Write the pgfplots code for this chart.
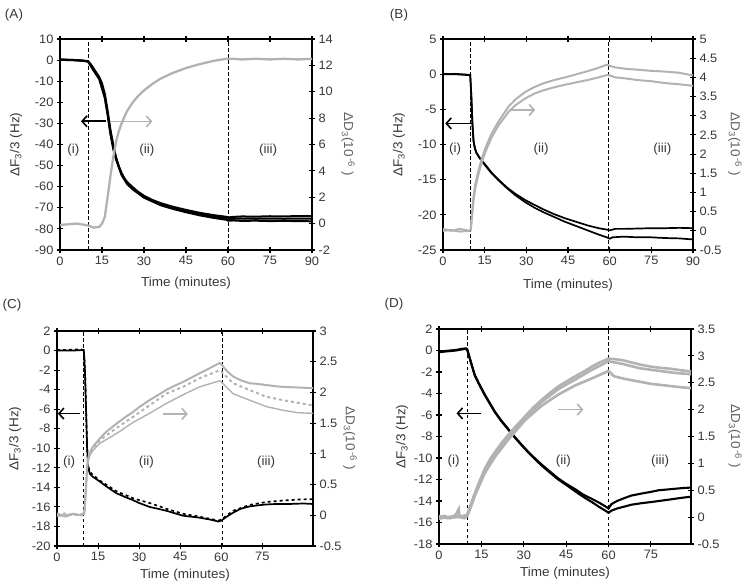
\documentclass[border=0pt]{standalone}
\usepackage{fontspec}
\setmainfont{Liberation Sans}[FakeStretch=1.04]
\newfontfamily\tickfamily{Liberation Sans}[FakeStretch=1.05]
\usepackage{pgfplots}
\pgfplotsset{compat=1.18}
\usetikzlibrary{arrows.meta}
\definecolor{gry}{RGB}{178,178,178}
\definecolor{txt}{RGB}{55,55,55}
\newcommand{\tf}{\fontsize{13}{15}\selectfont}
\newcommand{\tkf}{\tickfamily\fontsize{12.2}{14}\selectfont}
\pgfplotsset{
  qcm/.style={scale only axis, axis line style={line width=1.5pt}, every tick/.style={black, line width=1.1pt},
    tick align=center, major tick length=6pt, ticklabel style={font=\tkf, text=txt},
    /pgf/number format/assume math mode=true, clip=true, label style={font=\tf}},
  leftax/.style={qcm, ytick pos=left, xtick pos=both, xlabel={Time (minutes)}, ylabel={ΔF\textsubscript{3}/3 (Hz)},
    every axis y label/.style={at={(axis description cs:#1,0.5)}, anchor=center, rotate=90, text=txt, font=\tf},
    every axis x label/.style={at={(axis description cs:0.5,0)}, anchor=center, text=txt, font=\tf}},
  rightax/.style={qcm, axis y line*=right, axis x line=none, ylabel={ΔD\textsubscript{3}(10\textsuperscript{\,-6}\,\,)},
    every axis y label/.style={at={(axis description cs:#1,0.5)}, anchor=center, rotate=-90, text=black!62, font=\tf}},
}
\tikzset{
  blk/.style={black, line width=1.7pt},
  gl/.style={gry, line width=2pt},
  vd/.style={black, line width=0.8pt, dash pattern=on 3.5pt off 2.5pt},
  barw/.style={line width=1.6pt, -{Straight Barb[length=5pt,width=11pt]}},
  rn/.style={font=\tf, text=txt}
}
\begin{document}
\begin{tikzpicture}
\useasboundingbox (0,0) rectangle (750pt,587pt);
\node[font=\tf, text=txt] at (14pt,572pt) {(A)};
\node[font=\tf, text=txt] at (399pt,572pt) {(B)};
\node[font=\tf, text=txt] at (12pt,282pt) {(C)};
\node[font=\tf, text=txt] at (394pt,283pt) {(D)};
% ---------------- Panel A ----------------
\begin{axis}[leftax=-0.175, at={(60pt,337pt)}, anchor=south west, width=252pt, height=211pt,
  xmin=0, xmax=90, ymin=-90, ymax=10, xtick={0,15,...,90}, ytick={-90,-80,...,10},
  xlabel style={yshift=-33pt}]
\addplot[vd] coordinates {(10,-90) (10,10)};
\addplot[vd] coordinates {(60,-90) (60,10)};
\addplot[blk, line width=2pt] coordinates {(0,0.3) (2,0.2) (4,0.1) (6,0) (8,-0.2) (10,-0.5) (11,-2) (12,-4) (13,-6) (14,-8) (15,-11) (16,-16) (17,-24) (18,-33) (19,-40) (20,-46) (21,-50.5) (22,-53.5) (23,-56) (24,-57.8) (26,-60.3) (28,-62.5) (30,-64.3) (33,-66.3) (36,-67.8) (40,-69.4) (45,-71) (50,-72.4) (55,-73.5) (59.5,-74.3) (60,-74.6) (62,-74.3) (65,-74.1) (70,-74.2) (75,-74) (80,-74.1) (85,-73.9) (90,-74)};
\addplot[blk, line width=2pt] coordinates {(0,0.2) (4,0.1) (8,-0.3) (10,-0.6) (12,-4.5) (14,-8.5) (16,-17) (17,-25) (18,-34) (19,-41) (20,-46.5) (22,-54) (24,-58.3) (26,-60.8) (30,-64.8) (36,-68.3) (40,-69.9) (45,-71.6) (50,-73) (55,-74.2) (59.5,-75) (60,-75.4) (62,-75.2) (65,-75.1) (70,-75.2) (75,-75.1) (80,-75.2) (85,-75.1) (90,-75.2)};
\addplot[blk, line width=2pt] coordinates {(0,0.1) (4,0) (8,-0.3) (10,-0.7) (12,-5) (14,-9) (16,-18) (17,-26) (18,-35) (19,-42) (20,-47) (22,-54.5) (24,-58.8) (26,-61.3) (30,-65.2) (36,-68.8) (40,-70.4) (45,-72.1) (50,-73.6) (55,-74.8) (59.5,-75.7) (60,-76.1) (62,-76) (65,-76.2) (70,-76.1) (75,-76.3) (80,-76.2) (85,-76.3) (90,-76.4)};
\draw[barw, black] (axis cs:16.6,-29) -- (axis cs:7.5,-29);
\node[rn] at (axis cs:4.8,-42.5) {(i)};
\node[rn] at (axis cs:31,-42.5) {(ii)};
\node[rn] at (axis cs:74.3,-42.5) {(iii)};
\end{axis}
\begin{axis}[rightax=1.143, at={(60pt,337pt)}, anchor=south west, width=252pt, height=211pt,
  xmin=0, xmax=90, ymin=-2, ymax=14, ytick={-2,0,...,14}]
\addplot[gl, line width=2.3pt] coordinates {(0,-0.1) (3,-0.05) (6,0) (9,-0.1) (10,-0.15) (12,-0.3) (14,-0.25) (15,0) (16,0.5) (17,2.0) (18,3.6) (19,5.0) (20,6.2) (21,7.0) (22,7.6) (23,8.1) (24,8.55) (26,9.2) (28,9.7) (30,10.1) (33,10.6) (36,11.0) (40,11.4) (45,11.8) (50,12.1) (55,12.35) (59.5,12.5) (62,12.5) (65,12.45) (70,12.5) (75,12.45) (80,12.5) (85,12.45) (90,12.5)};
\draw[barw, gry] (axis cs:17.8,7.75) -- (axis cs:33,7.75);
\end{axis}
% ---------------- Panel B ----------------
\begin{axis}[leftax=-0.176, at={(443pt,337pt)}, anchor=south west, width=250pt, height=211pt,
  xmin=0, xmax=90, ymin=-25, ymax=5, xtick={0,15,...,90}, ytick={-25,-20,...,5},
  xlabel style={yshift=-35pt}]
\addplot[vd] coordinates {(10,-25) (10,5)};
\addplot[vd] coordinates {(59.5,-25) (59.5,5)};
\addplot[blk] coordinates {(0,0.05) (2,0) (4,0.05) (6,0) (8,-0.05) (9.8,-0.1) (10.2,-3) (10.6,-7) (11,-9.5) (11.5,-10.5) (12,-11.1) (13,-11.8) (14,-12.3) (15.5,-13) (17.5,-14) (20,-15) (23,-16.1) (26,-17) (29.6,-17.9) (33,-18.6) (36,-19.2) (40,-19.9) (44,-20.5) (48,-21.0) (52,-21.5) (56,-21.9) (59,-22.1) (60,-22.2) (62,-22.0) (65,-22.0) (70,-21.95) (75,-21.9) (80,-21.9) (85,-21.85) (90,-21.9)};
\addplot[blk] coordinates {(0,0) (4,0) (8,-0.1) (9.8,-0.15) (10.2,-3.2) (10.6,-7.2) (11,-9.6) (11.5,-10.6) (12,-11.2) (14,-12.4) (17.5,-14.1) (20,-15.1) (23,-16.2) (26,-17.2) (29.6,-18.2) (33,-19.0) (36,-19.6) (40,-20.3) (44,-21.0) (48,-21.6) (52,-22.2) (56,-22.8) (59,-23.2) (60,-23.4) (61,-23.2) (65,-23.1) (70,-23.2) (75,-23.2) (80,-23.3) (85,-23.35) (90,-23.5)};
\draw[barw, black] (axis cs:10.4,-7) -- (axis cs:0.8,-7);
\node[rn] at (axis cs:4.4,-10.7) {(i)};
\node[rn] at (axis cs:35.3,-10.7) {(ii)};
\node[rn] at (axis cs:79,-10.7) {(iii)};
\end{axis}
\begin{axis}[rightax=1.168, at={(443pt,337pt)}, anchor=south west, width=250pt, height=211pt,
  xmin=0, xmax=90, ymin=-0.5, ymax=5, ytick={-0.5,0,...,5}]
\addplot[gl] coordinates {(0,0.05) (3,0.0) (6,0.05) (9.5,0.0) (10,0.05) (10.5,0.5) (11,0.9) (11.6,1.2) (12.5,1.5) (14,1.9) (15.5,2.2) (17.6,2.55) (20,2.85) (23.6,3.24) (26,3.42) (29.6,3.62) (33,3.75) (36,3.84) (40,3.93) (44,4.0) (48,4.08) (52,4.16) (56,4.25) (59,4.33) (60,4.3) (62,4.26) (66,4.22) (70,4.2) (75,4.17) (80,4.15) (85,4.12) (90,4.05)};
\addplot[gl] coordinates {(0,0.0) (3,0.02) (6,-0.02) (9.5,0.0) (10,0.02) (10.5,0.4) (11,0.8) (11.6,1.1) (12.5,1.4) (14,1.8) (15.5,2.1) (17.6,2.45) (20,2.75) (23.6,3.1) (26,3.27) (29.6,3.45) (33,3.58) (36,3.66) (40,3.74) (44,3.81) (48,3.87) (52,3.93) (56,4.0) (59,4.06) (60,4.05) (62,4.0) (66,3.97) (70,3.93) (75,3.9) (80,3.85) (85,3.82) (90,3.78)};
\draw[barw, gry] (axis cs:23.6,3.15) -- (axis cs:33.2,3.15);
\end{axis}
% ---------------- Panel C ----------------
\begin{axis}[leftax=-0.164, at={(57pt,41pt)}, anchor=south west, width=256pt, height=215pt,
  xmin=0, xmax=93.5, ymin=-20, ymax=2, xtick={0,15,...,75}, ytick={-20,-18,...,2},
  xlabel style={yshift=-29pt}]
\addplot[vd] coordinates {(9.7,-20) (9.7,2)};
\addplot[vd] coordinates {(60.3,-20) (60.3,2)};
\addplot[blk] coordinates {(0,0) (3,0) (6,0) (9,0.05) (9.8,0) (10.2,-2) (10.6,-6) (11,-10) (11.4,-12) (12,-12.6) (13,-12.9) (15.6,-13.4) (18,-13.9) (21.7,-14.6) (25,-15.0) (27.7,-15.3) (30,-15.6) (33.8,-16.0) (37,-16.2) (40,-16.4) (46,-16.9) (52,-17.1) (56,-17.3) (59,-17.5) (60,-17.4) (62,-17.0) (64.3,-16.6) (67,-16.2) (70.3,-15.95) (73,-15.85) (76.4,-15.75) (80,-15.7) (85,-15.7) (90,-15.65) (93.5,-15.7)};
\addplot[blk, dashed] coordinates {(0,0.05) (3,0.05) (6,0.1) (9,0.1) (9.8,0.05) (10.2,-1.8) (10.6,-5.8) (11,-9.8) (11.4,-11.8) (12,-12.4) (13,-12.7) (15.6,-13.3) (21.7,-14.4) (27.7,-15.1) (30,-15.3) (33.8,-15.6) (37,-15.9) (40,-16.2) (46,-16.7) (52,-17.0) (59,-17.4) (60,-17.3) (64.3,-16.4) (70.3,-15.8) (76.4,-15.5) (82.5,-15.35) (88,-15.25) (93.5,-15.2)};
\draw[barw, black] (axis cs:8.3,-6.45) -- (axis cs:0.3,-6.45);
\node[rn] at (axis cs:4.4,-11.4) {(i)};
\node[rn] at (axis cs:32.6,-11.4) {(ii)};
\node[rn] at (axis cs:76.4,-11.4) {(iii)};
\end{axis}
\begin{axis}[rightax=1.1445, at={(57pt,41pt)}, anchor=south west, width=256pt, height=215pt,
  xmin=0, xmax=93.5, ymin=-0.5, ymax=3, ytick={-0.5,0,...,3}]
\addplot[gl] coordinates {(0,0.03) (3,-0.02) (6,0.02) (9,0.0) (10,0.05) (10.5,0.4) (11,0.8) (11.5,0.95) (12,1.02) (13,1.11) (15.6,1.25) (18,1.36) (21.7,1.49) (25,1.6) (27.7,1.68) (30,1.76) (33.8,1.875) (37,1.96) (39.9,2.04) (43,2.11) (46,2.17) (49,2.24) (52,2.31) (56,2.4) (59.4,2.48) (60,2.46) (62,2.35) (64.3,2.26) (67,2.2) (70.3,2.15) (73,2.14) (76.4,2.12) (80,2.1) (82.5,2.09) (88,2.08) (93.5,2.07)};
\addplot[gl, dashed] coordinates {(0,0.0) (3,0.03) (6,0.0) (9,0.02) (10,0.03) (10.5,0.38) (11,0.78) (11.5,0.93) (12,1.0) (13,1.09) (15.6,1.22) (21.7,1.42) (27.7,1.6) (33.8,1.79) (39.9,1.98) (46,2.09) (52,2.23) (59.4,2.36) (60,2.34) (64.3,2.15) (70.3,2.04) (76.4,1.93) (82.5,1.875) (88,1.83) (93.5,1.79)};
\addplot[gl, line width=1.4pt] coordinates {(0,-0.02) (3,0.0) (6,0.03) (9,0.0) (10,0.02) (10.5,0.35) (11,0.74) (11.5,0.9) (12,0.97) (13,1.05) (15.6,1.17) (21.7,1.33) (27.7,1.51) (33.8,1.66) (39.9,1.82) (46,1.96) (52,2.09) (59.4,2.19) (60,2.17) (64.3,1.98) (70.3,1.875) (76.4,1.77) (82.5,1.71) (88,1.67) (93.5,1.66)};
\draw[barw, gry] (axis cs:38.7,1.65) -- (axis cs:47.8,1.65);
\end{axis}
% ---------------- Panel D ----------------
\begin{axis}[leftax=-0.147, at={(439pt,43pt)}, anchor=south west, width=252pt, height=215pt,
  xmin=0, xmax=89.2, ymin=-18, ymax=2, xtick={0,15,...,75}, ytick={-18,-16,...,2},
  xlabel style={yshift=-29pt}]
\addplot[vd] coordinates {(10,-18) (10,2)};
\addplot[vd] coordinates {(60,-18) (60,2)};
\addplot[blk, line width=2.1pt] coordinates {(0,-0.1) (2,-0.05) (4,0) (6,0.05) (8,0.15) (9.5,0.2) (10,0.1) (11,-0.8) (12,-1.7) (12.7,-2.3) (14,-3.0) (16.2,-4.1) (18,-4.9) (19.8,-5.7) (22,-6.5) (24.5,-7.3) (27,-8.1) (30.4,-9.1) (33,-9.8) (36.3,-10.6) (39,-11.2) (42.2,-11.9) (45,-12.4) (48.2,-12.9) (51,-13.4) (54.1,-13.8) (57,-14.2) (59.5,-14.6) (60,-14.7) (61,-14.3) (63,-14.0) (65.9,-13.7) (68,-13.5) (71.8,-13.3) (75,-13.15) (77.8,-13.0) (82,-12.9) (86,-12.8) (89.2,-12.75)};
\addplot[blk, line width=2.1pt] coordinates {(0,-0.15) (2,-0.1) (4,-0.05) (6,0) (8,0.1) (9.5,0.15) (10,0.05) (11,-0.85) (12,-1.75) (12.7,-2.35) (14,-3.05) (16.2,-4.15) (18,-4.95) (19.8,-5.75) (22,-6.55) (24.5,-7.35) (27,-8.15) (30.4,-9.15) (33,-9.85) (36.3,-10.7) (39,-11.3) (42.2,-12.0) (45,-12.5) (48.2,-13.1) (51,-13.6) (54.1,-14.1) (57,-14.6) (59.5,-15.0) (60,-15.1) (61,-14.9) (63,-14.7) (65.9,-14.5) (68,-14.35) (71.8,-14.2) (75,-14.1) (77.8,-14.0) (82,-13.85) (86,-13.7) (89.2,-13.6)};
\draw[barw, black] (axis cs:15,-5.85) -- (axis cs:6.2,-5.85);
\node[rn] at (axis cs:5.2,-10.3) {(i)};
\node[rn] at (axis cs:44,-10.3) {(ii)};
\node[rn] at (axis cs:78.3,-10.3) {(iii)};
\end{axis}
\begin{axis}[rightax=1.175, at={(439pt,43pt)}, anchor=south west, width=252pt, height=215pt,
  xmin=0, xmax=89.2, ymin=-0.5, ymax=3.5, ytick={-0.5,0,...,3.5}]
\addplot[gl, line width=2.6pt] coordinates {(0,0.0) (2,0.02) (4,-0.02) (6,0.05) (7,0.15) (7.3,0.0) (9,0.02) (10,0.05) (11,0.2) (12.7,0.45) (14,0.62) (16.2,0.9) (18,1.07) (19.8,1.21) (22,1.37) (24.5,1.53) (27,1.68) (30.4,1.87) (33,2.02) (36.3,2.18) (39,2.3) (42.2,2.43) (45,2.52) (48.2,2.62) (51,2.7) (54.1,2.8) (57,2.88) (60,2.95) (62,2.94) (65,2.92) (68,2.88) (71,2.84) (75,2.8) (78,2.78) (82,2.76) (86,2.73) (89.2,2.71)};
\addplot[gl, line width=2.6pt] coordinates {(0,-0.03) (3,0.0) (6,0.02) (9,-0.02) (10,0.03) (11,0.18) (12.7,0.42) (16.2,0.86) (19.8,1.17) (24.5,1.49) (30.4,1.84) (36.3,2.14) (42.2,2.38) (48.2,2.56) (54.1,2.74) (60,2.9) (65,2.85) (71,2.77) (78,2.72) (84,2.68) (89.2,2.66)};
\addplot[gl, line width=2.6pt] coordinates {(0,0.02) (3,-0.02) (6,0.0) (9,0.03) (10,0.02) (11,0.15) (12.7,0.4) (16.2,0.82) (19.8,1.12) (24.5,1.44) (30.4,1.8) (36.3,2.07) (42.2,2.28) (48.2,2.45) (54.1,2.58) (60,2.72) (62,2.62) (65.9,2.57) (70,2.53) (75,2.48) (80,2.45) (85,2.42) (89.2,2.4)};
\draw[barw, gry] (axis cs:42.2,2.0) -- (axis cs:51.1,2.0);
\end{axis}
\end{tikzpicture}
\end{document}
